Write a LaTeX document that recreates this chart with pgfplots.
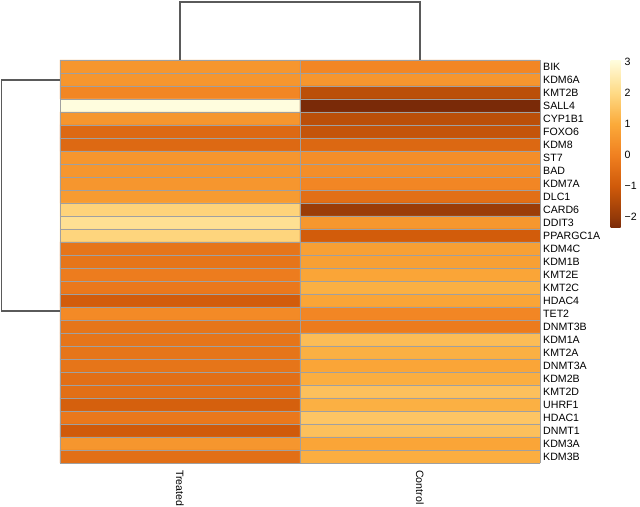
\documentclass[border=0pt]{standalone}
\usepackage{fontspec}
\setmainfont{Liberation Sans}
\usepackage{pgfplots}
\pgfplotsset{compat=1.18}
\usepackage{pgfplotstable}

\pgfplotstableread{
x y c
0 1 0.52
1 1 0.15
0 2 0.52
1 2 0.52
0 3 0.15
1 3 -1.35
0 4 3.06
1 4 -2.35
0 5 0.52
1 5 -1.35
0 6 -0.6
1 6 -1.2
0 7 -0.6
1 7 -0.62
0 8 0.52
1 8 0.33
0 9 0.52
1 9 0.33
0 10 0.52
1 10 0.15
0 11 0.64
1 11 -0.45
0 12 1.85
1 12 -1.9
0 13 2.17
1 13 0.55
0 14 1.9
1 14 -0.95
0 15 -0.3
1 15 0.76
0 16 -0.3
1 16 0.76
0 17 -0.1
1 17 0.88
0 18 -0.2
1 18 1.12
0 19 -0.95
1 19 0.88
0 20 0.24
1 20 0.15
0 21 -0.3
1 21 -0.12
0 22 -0.3
1 22 1.37
0 23 -0.3
1 23 1.12
0 24 -0.3
1 24 0.88
0 25 -0.45
1 25 1.08
0 26 -0.45
1 26 1.46
0 27 -0.85
1 27 1.12
0 28 -0.2
1 28 1.56
0 29 -1.0
1 29 1.46
0 30 0.52
1 30 0.88
0 31 -0.45
1 31 1.08
}\heatdata

\definecolor{cellborder}{RGB}{160,160,160}
\definecolor{dendro}{RGB}{90,90,90}

\begin{document}
\begin{tikzpicture}
\useasboundingbox (0,0) rectangle (640bp,507bp);
\begin{axis}[
  at={(60bp,44bp)}, anchor=south west,
  scale only axis, width=480bp, height=403bp,
  xmin=-0.5, xmax=1.5, ymin=0.5, ymax=31.5,
  y dir=reverse, enlargelimits=false, clip=false,
  axis line style={draw=none},
  major tick length=0pt, minor tick length=0pt,
  xtick={0,1}, xticklabels={Treated,Control},
  xticklabel style={rotate=-90, anchor=west, inner sep=0pt, xshift=7bp,
    font=\fontsize{10.6bp}{12bp}\selectfont},
  ytick={1,...,31},
  yticklabels={BIK,KDM6A,KMT2B,SALL4,CYP1B1,FOXO6,KDM8,ST7,BAD,KDM7A,DLC1,CARD6,DDIT3,PPARGC1A,KDM4C,KDM1B,KMT2E,KMT2C,HDAC4,TET2,DNMT3B,KDM1A,KMT2A,DNMT3A,KDM2B,KMT2D,UHRF1,HDAC1,DNMT1,KDM3A,KDM3B},
  yticklabel pos=right,
  yticklabel style={anchor=west, inner sep=0pt, xshift=3bp,
    font=\fontsize{10.6bp}{12bp}\selectfont},
  minor xtick={-0.5,0.5,1.5},
  minor ytick={0.5,1.5,...,31.5},
  grid=minor,
  minor grid style={draw=cellborder, line width=0.8bp},
  axis on top,
  colormap={refmap}{rgb255(0pt)=(122,42,8); rgb255(35pt)=(149,58,8); rgb255(135pt)=(208,90,10); rgb255(235pt)=(240,128,32); rgb255(335pt)=(251,170,58); rgb255(435pt)=(254,218,133); rgb255(541pt)=(255,253,222)},
  point meta min=-2.35, point meta max=3.06,
  colorbar,
  colorbar style={
    at={(parent axis.north east)}, anchor=north west, xshift=62bp,
    width=10bp, height=168bp,
    ytick={-2,-1,0,1,2,3},
    yticklabels={−2,−1,0,1,2,3},
    yticklabel pos=right,
    major tick length=0pt,
    axis line style={draw=none},
    yticklabel style={anchor=west, inner sep=0pt, xshift=4bp,
      font=\fontsize{10.6bp}{12bp}\selectfont},
  },
]
\addplot[matrix plot*, mesh/cols=2, point meta=explicit]
  table[x=x, y=y, meta=c] {\heatdata};
% column dendrogram
\addplot[dendro, line width=1.1bp, no markers, forget plot]
  coordinates {(0,0.5) (0,-3.96) (1,-3.96) (1,0.5)};
% row dendrogram
\addplot[dendro, line width=1.1bp, no markers, forget plot]
  coordinates {(-0.5,2.04) (-0.742,2.04) (-0.742,19.81) (-0.5,19.81)};
\end{axis}
\end{tikzpicture}
\end{document}
